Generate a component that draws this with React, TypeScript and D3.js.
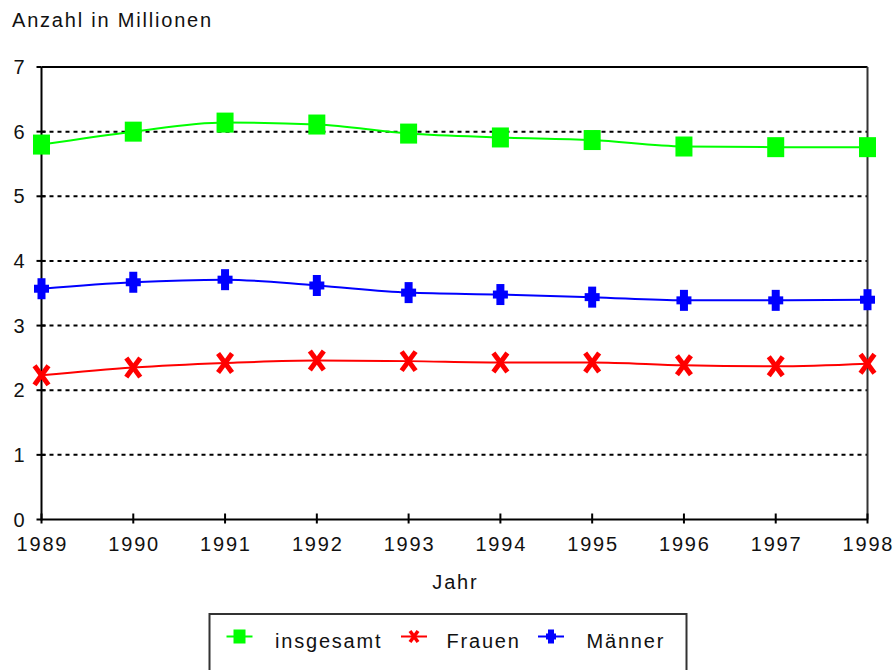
import React from "react";
import * as d3 from "d3";

const years = [1989, 1990, 1991, 1992, 1993, 1994, 1995, 1996, 1997, 1998];
const insgesamt = [5.8, 6.0, 6.14, 6.11, 5.97, 5.91, 5.87, 5.77, 5.76, 5.76];
const frauen = [2.23, 2.35, 2.42, 2.46, 2.45, 2.43, 2.43, 2.385, 2.37, 2.41];
const maenner = [3.57, 3.67, 3.71, 3.62, 3.51, 3.48, 3.44, 3.39, 3.39, 3.4];
const yTicks = [0, 1, 2, 3, 4, 5, 6, 7];
const seriesNames = ["insgesamt", "Frauen", "Männer"];
const yTitle = "Anzahl in Millionen";
const xTitle = "Jahr";

const W = 893;
const H = 670;
const left = 41.5;
const right = 867.5;
const top = 67;
const bottom = 519.5;
const FONT = "'Liberation Sans', Arial, sans-serif";
const FS = 20;
const LS = 1.8;

const x = d3.scaleLinear().domain([1989, 1998]).range([left, right]);
const y = d3.scaleLinear().domain([0, 7]).range([bottom, top]);

type Shape = "square" | "cross" | "plus";
function Marker({ cx, cy, shape, color }: { cx: number; cy: number; shape: Shape; color: string }) {
  if (shape === "square") {
    return <rect x={cx - 8.5} y={cy - 10} width={17} height={20} fill={color} />;
  }
  if (shape === "plus") {
    return (
      <g fill={color}>
        <rect x={cx - 7.5} y={cy - 4} width={15} height={8} />
        <rect x={cx - 4} y={cy - 10.5} width={8} height={21} />
      </g>
    );
  }
  return (
    <g stroke={color} strokeWidth={5} strokeLinecap="square">
      <line x1={cx - 5.5} y1={cy - 7.5} x2={cx + 5.5} y2={cy + 7.5} />
      <line x1={cx - 5.5} y1={cy + 7.5} x2={cx + 5.5} y2={cy - 7.5} />
    </g>
  );
}

const series: { name: string; values: number[]; color: string; shape: Shape }[] = [
  { name: seriesNames[0], values: insgesamt, color: "#00ff00", shape: "square" },
  { name: seriesNames[1], values: frauen, color: "#ff0000", shape: "cross" },
  { name: seriesNames[2], values: maenner, color: "#0000ff", shape: "plus" },
];

const line = d3
  .line<number>()
  .x((_, i) => x(years[i]))
  .y((v) => y(v))
  .curve(d3.curveMonotoneX);

const legendItems = [
  { lx: 239.5, tx: 275 },
  { lx: 414, tx: 446.5 },
  { lx: 551, tx: 586.5 },
];

export default function App() {
  return (
    <svg width={W} height={H} style={{ position: "absolute", left: 0, top: 0, background: "#fff" }} fontFamily={FONT}>
      <rect x={0} y={0} width={W} height={H} fill="#fff" />
      <text x={12} y={27} fontSize={FS} letterSpacing={LS} fill="#111">
        {yTitle}
      </text>
      {yTicks.filter((t) => t > 0 && t < 7).map((t) => (
        <line key={t} x1={left} x2={right} y1={y(t)} y2={y(t)} stroke="#000" strokeWidth={2} strokeDasharray="4,4" />
      ))}
      <line x1={left} x2={right} y1={top} y2={top} stroke="#000" strokeWidth={2} />
      <line x1={right} x2={right} y1={top} y2={bottom} stroke="#333" strokeWidth={2} />
      <line x1={left} x2={left} y1={top} y2={bottom + 1} stroke="#000" strokeWidth={2} />
      <line x1={left} x2={right} y1={bottom} y2={bottom} stroke="#000" strokeWidth={2} />
      {yTicks.map((t) => (
        <g key={t}>
          <line x1={left - 5} x2={left + (t === 0 || t === 7 ? 0 : 4)} y1={y(t)} y2={y(t)} stroke="#000" strokeWidth={2} />
          <text x={left - 17} y={y(t) + 7} fontSize={FS} textAnchor="end" fill="#111">
            {t}
          </text>
        </g>
      ))}
      {years.map((yr) => (
        <g key={yr}>
          <line x1={x(yr)} x2={x(yr)} y1={bottom - 6} y2={bottom + 4} stroke="#000" strokeWidth={2} />
          <text x={x(yr) + LS / 2} y={551} fontSize={FS} letterSpacing={LS} textAnchor="middle" fill="#111">
            {yr}
          </text>
        </g>
      ))}
      <text x={(left + right) / 2 + LS / 2} y={589} fontSize={FS} letterSpacing={LS} textAnchor="middle" fill="#111">
        {xTitle}
      </text>
      {series.map((s) => (
        <g key={s.name}>
          <path d={line(s.values) || ""} fill="none" stroke={s.color} strokeWidth={2} />
          {s.values.map((v, i) => (
            <Marker key={i} cx={x(years[i])} cy={y(v)} shape={s.shape} color={s.color} />
          ))}
        </g>
      ))}
      <rect x={209.5} y={614} width={477} height={60} fill="#fff" stroke="#333" strokeWidth={2} />
      {series.map((s, i) => {
        const it = legendItems[i];
        const cy = 636.5;
        return (
          <g key={s.name}>
            <line x1={it.lx - 13} x2={it.lx + 13} y1={cy} y2={cy} stroke={s.color} strokeWidth={2} />
            {s.shape === "square" ? (
              <rect x={it.lx - 6} y={cy - 7} width={12} height={14} fill={s.color} />
            ) : s.shape === "plus" ? (
              <g fill={s.color}>
                <rect x={it.lx - 5} y={cy - 3} width={10} height={6} />
                <rect x={it.lx - 3} y={cy - 7} width={6} height={14} />
              </g>
            ) : (
              <g stroke={s.color} strokeWidth={3.5}>
                <line x1={it.lx - 4} y1={cy - 5.5} x2={it.lx + 4} y2={cy + 5.5} />
                <line x1={it.lx - 4} y1={cy + 5.5} x2={it.lx + 4} y2={cy - 5.5} />
              </g>
            )}
            <text x={it.tx} y={648} fontSize={FS} letterSpacing={LS} fill="#111">
              {s.name}
            </text>
          </g>
        );
      })}
    </svg>
  );
}
